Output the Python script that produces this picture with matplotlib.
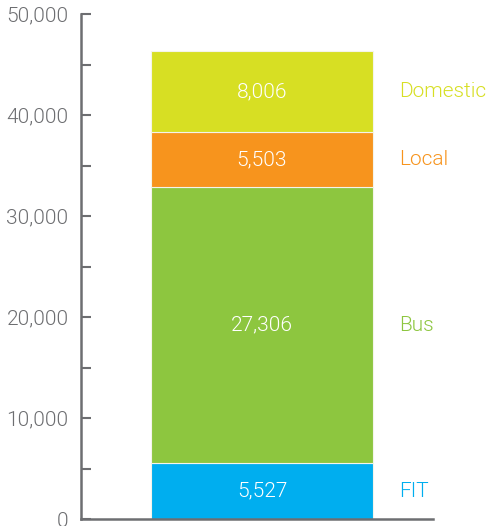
import numpy as np
import matplotlib.pyplot as plt
from matplotlib.ticker import MultipleLocator, FuncFormatter

plt.rcParams['font.family'] = ['Roboto', 'DejaVu Sans']
plt.rcParams['font.weight'] = 300

# segment data, bottom to top
categories = ["FIT", "Bus", "Local", "Domestic"]
values = [5527, 27306, 5503, 8006]
colors = ["#00aeef", "#8dc63f", "#f7941d", "#d7df23"]

axis_grey = "#6d6e71"
fsize = 15

fig = plt.figure(figsize=(4.91, 5.26), dpi=100)
ax = fig.add_axes([0.165, 0.0133, 0.717, 0.96])

bottoms = np.concatenate([[0], np.cumsum(values)[:-1]])
bar_x = 0.514
bar_w = 0.631
for cat, val, bot, col in zip(categories, values, bottoms, colors):
    ax.bar(bar_x, val, bottom=bot, width=bar_w, color=col,
           edgecolor="#f4f4ea", linewidth=0.8, zorder=1)
    mid = bot + val / 2
    ax.text(bar_x, mid, f"{val:,}", ha="center", va="center",
            color="white", fontsize=fsize, fontweight=300)
    ax.text(0.903, mid, cat, ha="left", va="center",
            color=col, fontsize=fsize, fontweight=300)

ax.set_xlim(0, 1)
ax.set_ylim(0, 50000)
ax.yaxis.set_major_locator(MultipleLocator(10000))
ax.yaxis.set_minor_locator(MultipleLocator(5000))
ax.yaxis.set_major_formatter(FuncFormatter(lambda v, p: f"{int(v):,}"))
ax.set_xticks([])

for s in ["top", "right"]:
    ax.spines[s].set_visible(False)
for s in ["left", "bottom"]:
    ax.spines[s].set_color(axis_grey)
    ax.spines[s].set_linewidth(1.8)
    ax.spines[s].set_zorder(3)

ax.tick_params(axis="y", which="both", direction="in", length=7.5,
               width=1.5, color=axis_grey, labelcolor=axis_grey,
               labelsize=fsize, pad=9)
for lbl in ax.get_yticklabels():
    lbl.set_fontweight(300)

fig.savefig("out.png", dpi=100)
